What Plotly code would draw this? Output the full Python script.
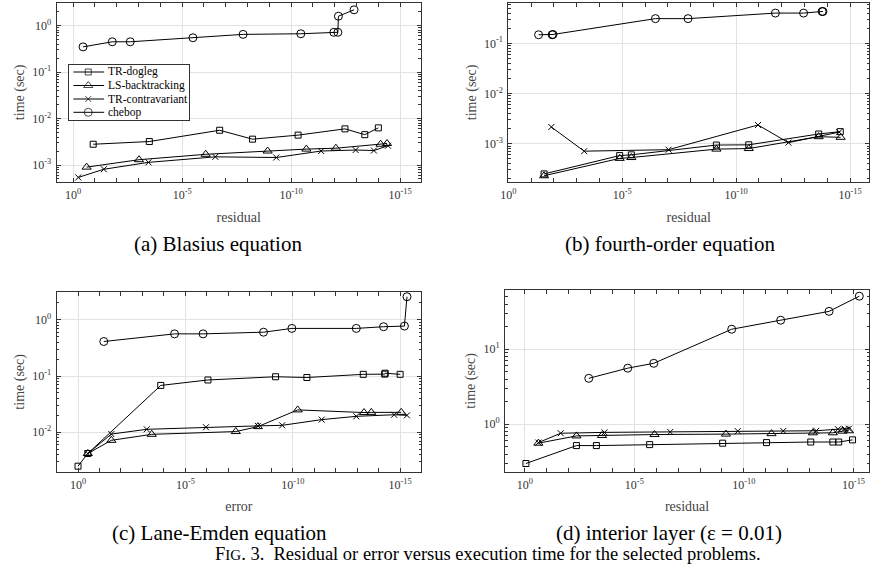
import plotly.graph_objects as go

# ---------------- data ----------------
# (a) Blasius equation
a_cheb_res = [3.5e-1, 1.6e-2, 2.4e-3, 3.2e-6, 1.6e-8, 3.6e-11, 1.1e-12, 7.2e-13, 6.8e-13, 1.3e-13]
a_cheb_t = [0.35, 0.45, 0.45, 0.55, 0.65, 0.67, 0.72, 0.72, 1.6, 2.2]
a_dog_res = [1.2e-1, 3.2e-4, 1.9e-7, 5.9e-9, 4.8e-11, 3.4e-13, 4.2e-14, 1.0e-14]
a_dog_t = [2.8e-3, 3.2e-3, 5.6e-3, 3.6e-3, 4.4e-3, 6.0e-3, 4.5e-3, 6.3e-3]
a_ls_res = [2.4e-1, 9.5e-4, 8.3e-7, 1.2e-9, 2.0e-11, 8.9e-13, 7.9e-15, 4.0e-15]
a_ls_t = [9.0e-4, 1.3e-3, 1.7e-3, 2.0e-3, 2.2e-3, 2.3e-3, 2.8e-3, 2.9e-3]
a_con_res = [5.8e-1, 3.9e-2, 3.5e-4, 3.0e-7, 4.8e-10, 4.2e-12, 1.1e-13, 1.6e-14, 3.6e-15]
a_con_t = [5.4e-4, 8.1e-4, 1.14e-3, 1.5e-3, 1.45e-3, 2.0e-3, 2.1e-3, 2.05e-3, 2.6e-3]

# (b) fourth-order equation
b_cheb_res = [4.7e-2, 1.2e-2, 1.1e-2, 3.5e-7, 1.3e-8, 1.9e-12, 1.1e-13, 1.7e-14, 1.55e-14]
b_cheb_t = [0.148, 0.148, 0.150, 0.31, 0.31, 0.40, 0.40, 0.43, 0.43]
b_dog_res = [2.7e-2, 1.3e-5, 4.0e-6, 7.4e-10, 2.8e-11, 2.4e-14, 2.7e-15]
b_dog_t = [2.5e-4, 5.8e-4, 6.0e-4, 9.4e-4, 9.5e-4, 1.56e-3, 1.74e-3]
b_ls_res = [2.7e-2, 1.3e-5, 4.0e-6, 7.4e-10, 2.8e-11, 2.4e-14, 2.6e-15]
b_ls_t = [2.3e-4, 5.1e-4, 5.3e-4, 7.8e-4, 8.0e-4, 1.38e-3, 1.34e-3]
b_con_res = [1.3e-2, 4.7e-4, 9.3e-8, 1.1e-11, 5.1e-13, 3.0e-15]
b_con_t = [2.15e-3, 7.1e-4, 7.6e-4, 2.36e-3, 1.05e-3, 1.7e-3]

# (c) Lane-Emden equation
c_cheb_res = [6.3e-2, 3.2e-5, 1.5e-6, 2.3e-9, 1.1e-10, 1.1e-13, 5.9e-15, 6.3e-16, 4.8e-16]
c_cheb_t = [0.41, 0.56, 0.56, 0.60, 0.70, 0.70, 0.75, 0.77, 2.56]
c_dog_res = [1.0, 3.5e-1, 1.4e-4, 8.9e-7, 6.3e-10, 2.2e-11, 5.2e-14, 5.2e-15, 5.0e-15, 1.0e-15]
c_dog_t = [2.5e-3, 4.2e-3, 0.068, 0.085, 0.097, 0.094, 0.107, 0.108, 0.112, 0.107]
c_ls_res = [3.5e-1, 2.8e-2, 3.7e-4, 4.5e-8, 4.2e-9, 5.9e-11, 4.8e-14, 2.2e-14, 8.9e-16]
c_ls_t = [4.2e-3, 7.2e-3, 9.2e-3, 1.03e-2, 1.26e-2, 2.5e-2, 2.24e-2, 2.26e-2, 2.26e-2]
c_con_res = [3.5e-1, 2.8e-2, 6.3e-4, 1.1e-6, 4.2e-9, 3.1e-10, 4.5e-12, 1.1e-13, 1.9e-15, 4.8e-16]
c_con_t = [4.2e-3, 9.3e-3, 1.13e-2, 1.23e-2, 1.3e-2, 1.33e-2, 1.68e-2, 1.92e-2, 2.05e-2, 2.0e-2]

# (d) interior layer
d_cheb_res = [1.2e-3, 2.0e-5, 1.3e-6, 3.6e-10, 2.1e-12, 1.3e-14, 5.4e-16]
d_cheb_t = [4.1, 5.6, 6.5, 18.5, 24.4, 32, 51]
d_dog_res = [8.9e-1, 4.4e-3, 5.4e-4, 2.0e-6, 9.3e-10, 9.3e-12, 8.9e-14, 8.7e-15, 4.7e-15, 1.1e-15]
d_dog_t = [0.30, 0.52, 0.52, 0.536, 0.56, 0.57, 0.58, 0.58, 0.58, 0.62]
d_ls_res = [2.4e-1, 4.4e-3, 3.0e-4, 1.2e-6, 6.6e-10, 5.5e-12, 7.1e-14, 8.7e-15, 3.2e-15, 1.6e-15]
d_ls_t = [0.56, 0.70, 0.71, 0.73, 0.74, 0.75, 0.77, 0.77, 0.81, 0.82]
d_con_res = [2.4e-1, 2.3e-2, 2.3e-4, 2.3e-7, 1.9e-10, 1.6e-12, 5.0e-14, 5.1e-15, 2.5e-15, 1.6e-15]
d_con_t = [0.57, 0.76, 0.78, 0.79, 0.81, 0.815, 0.82, 0.86, 0.87, 0.875]

method_names = ["TR-dogleg", "LS-backtracking", "TR-contravariant", "chebop"]
x_tick_vals = [1, 1e-5, 1e-10, 1e-15]
x_tick_text = ["10<sup>0</sup>", "10<sup>-5</sup>", "10<sup>-10</sup>", "10<sup>-15</sup>"]
subcaptions = ["(a) Blasius equation", "(b) fourth-order equation",
               "(c) Lane-Emden equation", "(d) interior layer (\u03b5 = 0.01)"]
x_titles = ["residual", "residual", "error", "residual"]
y_title = "time (sec)"
fig_caption = "F<span style='font-size:15px'>IG</span>. 3.  Residual or error versus execution time for the selected problems."

# ---------------- layout geometry (pixels) ----------------
W, H = 870, 574
FONT = "Liberation Serif, Times New Roman, serif"
# panel boxes: left, right, top, bottom
boxes = [(49, 416.7, 2.7, 182), (505, 869, 2.7, 182),
         (49, 417, 292, 471.7), (501.7, 869, 290, 471.7)]
xranges = [[0.76, -15.95], [0.0, -15.83], [1.0, -15.98], [0.90, -15.71]]
yranges = [[-3.366, 0.495], [-3.763, -0.191], [-2.70, 0.492], [-0.632, 1.79]]
ydecades = [range(-4, 2), range(-4, 1), range(-3, 2), range(-1, 3)]

styles = {
    "TR-dogleg": dict(symbol="square-open", size=6),
    "LS-backtracking": dict(symbol="triangle-up-open", size=8),
    "TR-contravariant": dict(symbol="x-thin-open", size=6),
    "chebop": dict(symbol="circle-open", size=8),
}

panels = [
    [(a_dog_res, a_dog_t), (a_ls_res, a_ls_t), (a_con_res, a_con_t), (a_cheb_res, a_cheb_t)],
    [(b_dog_res, b_dog_t), (b_ls_res, b_ls_t), (b_con_res, b_con_t), (b_cheb_res, b_cheb_t)],
    [(c_dog_res, c_dog_t), (c_ls_res, c_ls_t), (c_con_res, c_con_t), (c_cheb_res, c_cheb_t)],
    [(d_dog_res, d_dog_t), (d_ls_res, d_ls_t), (d_con_res, d_con_t), (d_cheb_res, d_cheb_t)],
]

fig = go.Figure()
for p, series in enumerate(panels):
    suffix = "" if p == 0 else str(p + 1)
    for name, (xs, ys) in zip(method_names, series):
        st = styles[name]
        fig.add_trace(go.Scatter(
            x=xs, y=ys, mode="lines+markers", name=name,
            xaxis="x" + suffix, yaxis="y" + suffix, showlegend=False,
            line=dict(color="black", width=1),
            marker=dict(symbol=st["symbol"], size=st["size"], color="black",
                        line=dict(color="black", width=1)),
        ))

axis_common = dict(
    type="log", showline=True, linecolor="#333", linewidth=1, mirror="allticks",
    ticks="inside", ticklen=4, tickcolor="#333", tickwidth=1,
    showgrid=True, gridcolor="#e2e2e2", gridwidth=1, zeroline=False,
    tickfont=dict(family=FONT, size=12, color="#333"),
)

for p in range(4):
    l, r, t, b = boxes[p]
    suffix = "" if p == 0 else str(p + 1)
    xa = dict(axis_common)
    xa.update(
        domain=[l / W, r / W], anchor="y" + suffix, range=xranges[p],
        tickmode="array", tickvals=x_tick_vals, ticktext=x_tick_text,
        ticklabelstandoff=2,
        minor=dict(tickmode="array", tickvals=[10.0 ** (-k) for k in range(0, 17)],
                   ticks="inside", ticklen=4, tickcolor="#333", showgrid=False),
        title=dict(text=x_titles[p], font=dict(family=FONT, size=14, color="#444"), standoff=10),
    )
    ytv = [10.0 ** k for k in ydecades[p]]
    ytt = ["10<sup>%d</sup>" % k for k in ydecades[p]]
    ymin = [m * 10.0 ** k for k in ydecades[p] for m in range(2, 10)]
    ya = dict(axis_common)
    ya.update(
        domain=[1 - b / H, 1 - t / H], anchor="x" + suffix, range=yranges[p],
        tickmode="array", tickvals=ytv, ticktext=ytt, ticklabelstandoff=2,
        minor=dict(tickmode="array", tickvals=ymin, ticks="inside", ticklen=2.5,
                   tickcolor="#333", showgrid=False),
        title=dict(text=y_title, font=dict(family=FONT, size=14, color="#444"), standoff=4),
    )
    fig.layout["xaxis" + suffix] = xa
    fig.layout["yaxis" + suffix] = ya

# ---------------- legend (inset box inside panel a) ----------------
LEG = (62, 183, 65, 120)          # left, right, top, bottom in pixels
leg_w, leg_h = LEG[1] - LEG[0], LEG[3] - LEG[2]
leg_rows = [7, 20.5, 34, 47.3]    # row centres inside the box
leg_line_x = [4, 19, 35]          # sample line start, marker, end
leg_text_x = 37
fig.layout["xaxis5"] = dict(domain=[LEG[0] / W, LEG[1] / W], range=[0, leg_w], anchor="y5",
                            showline=True, mirror=True, linecolor="#333", linewidth=1,
                            showgrid=False, zeroline=False, ticks="", showticklabels=False,
                            fixedrange=True)
fig.layout["yaxis5"] = dict(domain=[1 - LEG[3] / H, 1 - LEG[2] / H], range=[leg_h, 0], anchor="x5",
                            showline=True, mirror=True, linecolor="#333", linewidth=1,
                            showgrid=False, zeroline=False, ticks="", showticklabels=False,
                            fixedrange=True)
shapes = [dict(type="rect", xref="x5", yref="y5", x0=0, x1=leg_w, y0=0, y1=leg_h,
               fillcolor="white", line=dict(width=0), layer="below")]
annotations = []
for name, row in zip(method_names, leg_rows):
    st = styles[name]
    fig.add_trace(go.Scatter(
        x=leg_line_x, y=[row] * 3, mode="lines+markers", xaxis="x5", yaxis="y5",
        showlegend=False, hoverinfo="skip",
        line=dict(color="black", width=1),
        marker=dict(symbol=st["symbol"], size=[0, st["size"], 0], color="black",
                    line=dict(color="black", width=1)),
    ))
    annotations.append(dict(text=name, x=leg_text_x, y=row, xref="x5", yref="y5",
                            xanchor="left", yanchor="middle", showarrow=False,
                            font=dict(family=FONT, size=11.5, color="black")))

cap_pos = [(212, 244), (668, 244), (213, 533), (667, 533)]
for txt, (cx, cy) in zip(subcaptions, cap_pos):
    annotations.append(dict(text=txt, x=cx / W, y=1 - cy / H, xref="paper", yref="paper",
                            xanchor="center", yanchor="middle", showarrow=False,
                            font=dict(family=FONT, size=21, color="black")))
annotations.append(dict(text=fig_caption, x=484 / W, y=1 - 554 / H, xref="paper", yref="paper",
                        xanchor="center", yanchor="middle", showarrow=False,
                        font=dict(family=FONT, size=18.5, color="black")))

fig.update_layout(
    width=W, height=H, margin=dict(l=0, r=0, t=0, b=0),
    paper_bgcolor="white", plot_bgcolor="white",
    annotations=annotations, shapes=shapes, showlegend=False,
)

fig.write_html("out.html")
